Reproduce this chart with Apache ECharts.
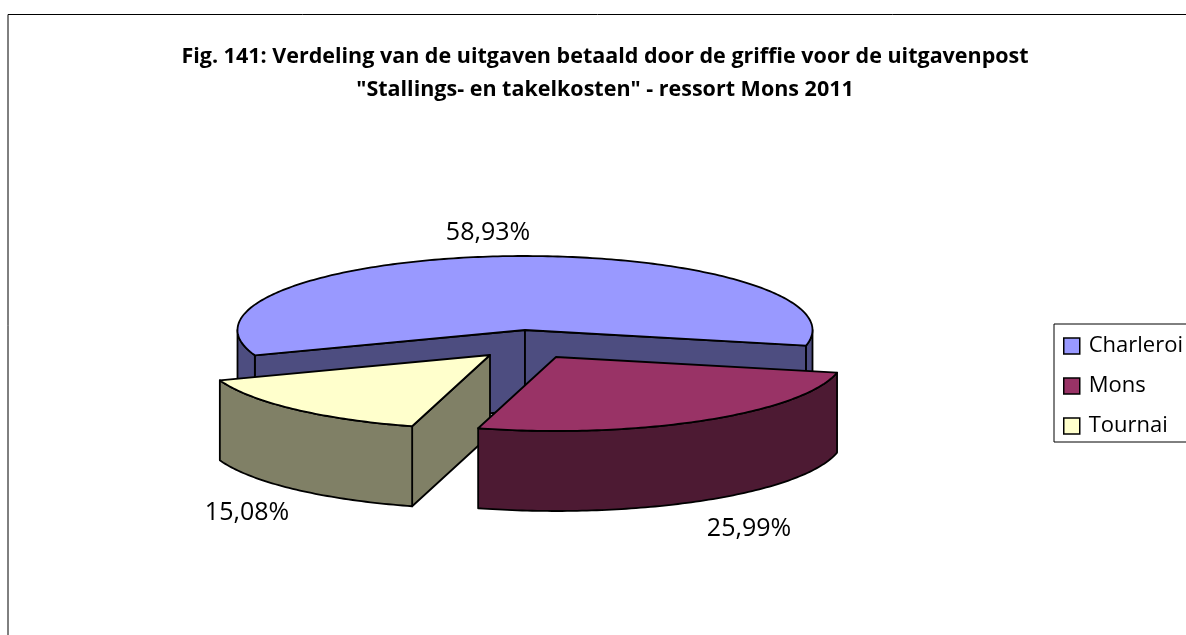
<!DOCTYPE html>
<html>
<head>
<meta charset="utf-8">
<title>Fig. 141</title>
<script src="https://cdn.jsdelivr.net/npm/echarts@6/dist/echarts.min.js"></script>
<style>
  html, body { margin: 0; padding: 0; background: #fff; overflow: hidden; }
  #mainbody { width: 1186px; height: 635px; }
</style>
</head>
<body>
<div id="mainbody"></div>
<script>
const categories = ['Charleroi', 'Mons', 'Tournai'];
const shares = [58.93, 25.99, 15.08];

const topColors = ['#9999FF', '#993366', '#FFFFCC'];
const sideColors = ['#4D4D80', '#4D1A33', '#808066'];

// ellipse of the pie, angles run clockwise from 3 o'clock
const cx = 525, cy = 330, rx = 287.5, ry = 74, depth = 80;
const firstAngle = 160;
// how far each slice is pulled out, and where its label sits
const sliceShift = [[0, 0], [31, 27], [-35, 25]];
const labelPos = [[488, 233], [749, 529], [247, 513]];
const font = '"Open Sans", Lato, sans-serif';

const total = shares.reduce((a, b) => a + b, 0);

function sliceRange(i) {
    let from = firstAngle;
    for (let k = 0; k < i; k++) from += shares[k] / total * 360;
    return [from, from + shares[i] / total * 360];
}

function pt(a, ox, oy, down) {
    const r = a * Math.PI / 180;
    return [cx + ox + rx * Math.cos(r), cy + oy + ry * Math.sin(r) + (down || 0)];
}

function arc(a0, a1, ox, oy, down) {
    const out = [];
    const n = Math.max(2, Math.ceil(a1 - a0));
    for (let k = 0; k <= n; k++) out.push(pt(a0 + (a1 - a0) * k / n, ox, oy, down));
    return out;
}

function poly(points, fill) {
    return {
        type: 'polygon',
        shape: { points: points },
        style: { fill: fill, stroke: '#000', lineWidth: 1.8, lineJoin: 'round' }
    };
}

function drawSlice(i, api) {
    const share = api.value(0);
    const range = sliceRange(i);
    const a0 = range[0], a1 = range[1];
    const ox = sliceShift[i][0], oy = sliceShift[i][1];
    const apex = [cx + ox, cy + oy];
    const apexLow = [cx + ox, cy + oy + depth];
    const children = [];

    // cut faces, only the ones turned towards the viewer
    [[a0, -1], [a1, 1]].forEach(function (e) {
        const c = Math.cos(e[0] * Math.PI / 180);
        if (e[1] * c > 0) {
            children.push(poly([apex, pt(e[0], ox, oy), pt(e[0], ox, oy, depth), apexLow], sideColors[i]));
        }
    });

    // rim, front half of the ellipse only
    [0, 360].forEach(function (base) {
        const s = Math.max(a0, base), t = Math.min(a1, base + 180);
        if (t > s) {
            children.push(poly(arc(s, t, ox, oy, 0).concat(arc(s, t, ox, oy, depth).reverse()), sideColors[i]));
        }
    });

    children.push(poly([apex].concat(arc(a0, a1, ox, oy, 0)), topColors[i]));

    children.push({
        type: 'text',
        style: {
            text: share.toFixed(2).replace('.', ',') + '%',
            x: labelPos[i][0],
            y: labelPos[i][1],
            fill: '#000',
            font: '25px ' + font,
            align: 'center',
            verticalAlign: 'middle'
        }
    });
    return { type: 'group', children: children };
}

// Mons goes last, it lies over the Tournai slice
const drawOrder = [0, 2, 1];

const option = {
    animation: false,
    backgroundColor: '#fff',
    title: {
        text: 'Fig. 141: Verdeling van de uitgaven betaald door de griffie voor de uitgavenpost\n"Stallings- en takelkosten" - ressort Mons 2011',
        left: 600,
        top: 35,
        textAlign: 'center',
        textStyle: { fontFamily: font, fontSize: 21.5, fontWeight: 'bold', color: '#000', lineHeight: 33 }
    },
    legend: {
        data: categories,
        orient: 'vertical',
        left: 1054,
        top: 324,
        padding: [11, 40, 5, 9],
        itemWidth: 16,
        itemHeight: 16,
        itemGap: 18,
        icon: 'rect',
        backgroundColor: '#fff',
        borderColor: '#000',
        borderWidth: 1,
        selectedMode: false,
        itemStyle: { borderColor: '#000', borderWidth: 1.5 },
        textStyle: { fontFamily: font, fontSize: 22, color: '#000', lineHeight: 16, padding: [0, 0, 0, 4] }
    },
    graphic: [{
        type: 'rect',
        z: -1,
        shape: { x: 8, y: 14.5, width: 1400, height: 900 },
        style: { fill: '#fff', stroke: '#000', lineWidth: 1 },
        silent: true
    }],
    series: drawOrder.map(function (i) {
        return {
            type: 'custom',
            name: categories[i],
            coordinateSystem: 'none',
            itemStyle: { color: topColors[i] },
            data: [[shares[i]]],
            renderItem: function (params, api) { return drawSlice(i, api); }
        };
    })
};

const myChart = echarts.init(document.getElementById('mainbody'));
myChart.setOption(option);
</script>
</body>
</html>
